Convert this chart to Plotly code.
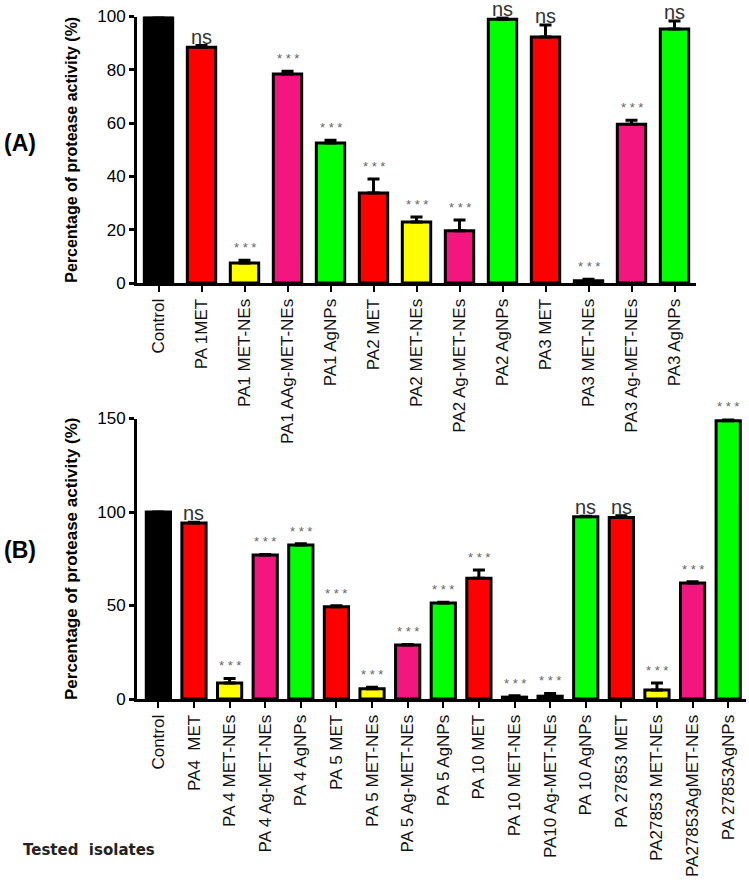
import plotly.graph_objects as go

# ---------------- Panel A data ----------------
cats_a = ["Control", "PA 1MET", "PA1 MET-NEs", "PA1 AAg-MET-NEs", "PA1 AgNPs",
          "PA2 MET", "PA2 MET-NEs", "PA2 Ag-MET-NEs", "PA2 AgNPs",
          "PA3 MET", "PA3 MET-NEs", "PA3 Ag-MET-NEs", "PA3 AgNPs"]
vals_a = [100, 88.5, 7.5, 78.4, 52.5, 33.8, 22.9, 19.6, 99.0, 92.3, 0.8, 59.6, 95.3]
errs_a = [0, 0.6, 1.0, 1.1, 1.1, 5.2, 1.9, 4.0, 0.5, 4.5, 0.6, 1.5, 3.0]
sig_a = ["", "ns", "***", "***", "***", "***", "***", "***", "ns", "ns", "***", "***", "ns"]
cols_a = ["#000000", "#FF0000", "#FFFF00", "#F2167E", "#00FF00",
          "#FF0000", "#FFFF00", "#F2167E", "#00FF00",
          "#FF0000", "#FFFF00", "#F2167E", "#00FF00"]

# ---------------- Panel B data ----------------
cats_b = ["Control", "PA4  MET", "PA 4 MET-NEs", "PA 4 Ag-MET-NEs", "PA 4 AgNPs",
          "PA 5 MET", "PA 5 MET-NEs", "PA 5 Ag-MET-NEs", "PA 5 AgNPs",
          "PA 10 MET", "PA 10 MET-NEs", "PA10 Ag-MET-NEs", "PA 10 AgNPs",
          "PA 27853 MET", "PA27853 MET-NEs", "PA27853AgMET-NEs", "PA 27853AgNPs"]
vals_b = [100, 94.1, 8.6, 77.0, 82.4, 49.3, 5.5, 28.9, 51.3, 64.6, 1.0, 1.5,
          97.4, 97.0, 4.8, 62.0, 148.8]
errs_b = [0, 0.4, 2.4, 0.3, 0.6, 0.5, 0.8, 0.3, 0.4, 4.4, 0.8, 1.5,
          0.3, 1.0, 3.8, 0.7, 0.7]
sig_b = ["", "ns", "***", "***", "***", "***", "***", "***", "***", "***", "***", "***",
         "ns", "ns", "***", "***", "***"]
cols_b = ["#000000", "#FF0000", "#FFFF00", "#F2167E", "#00FF00",
          "#FF0000", "#FFFF00", "#F2167E", "#00FF00",
          "#FF0000", "#FFFF00", "#F2167E", "#00FF00",
          "#FF0000", "#FFFF00", "#F2167E", "#00FF00"]

yticks_a = [0, 20, 40, 60, 80, 100]
yticks_b = [0, 50, 100, 150]

W, H = 749, 884
fig = go.Figure()

def add_bars(cats, vals, errs, cols, xa, ya, width):
    fig.add_trace(go.Bar(
        x=cats, y=vals, xaxis=xa, yaxis=ya,
        marker=dict(color=cols, line=dict(color="black", width=3)),
        width=width,
        error_y=dict(type="data", symmetric=False, array=errs,
                     arrayminus=[0] * len(errs), color="black",
                     thickness=3, width=6),
        showlegend=False, hoverinfo="x+y"))

add_bars(cats_a, vals_a, errs_a, cols_a, "x", "y", 0.66)
add_bars(cats_b, vals_b, errs_b, cols_b, "x2", "y2", 0.68)

anns = []
def add_sig(cats, vals, errs, sigs, xr, yr):
    for c, v, e, s in zip(cats, vals, errs, sigs):
        if not s:
            continue
        if s == "ns":
            anns.append(dict(x=c, y=v + e, xref=xr, yref=yr, text="ns",
                             showarrow=False, yanchor="bottom", yshift=-4,
                             font=dict(family="Liberation Sans, Arial", size=20, color="#333333")))
        else:
            anns.append(dict(x=c, y=v + e, xref=xr, yref=yr, text="* * *",
                             showarrow=False, yanchor="bottom", yshift=3,
                             font=dict(family="Liberation Sans, Arial", size=13, color="#666666")))

add_sig(cats_a, vals_a, errs_a, sig_a, "x", "y")
add_sig(cats_b, vals_b, errs_b, sig_b, "x2", "y2")

anns.append(dict(x=2 / W, y=1 - 143 / H, xref="paper", yref="paper", text="<b>(A)</b>",
                 showarrow=False, xanchor="left", yanchor="middle",
                 font=dict(family="Liberation Sans, Arial", size=23, color="black")))
anns.append(dict(x=2 / W, y=1 - 550 / H, xref="paper", yref="paper", text="<b>(B)</b>",
                 showarrow=False, xanchor="left", yanchor="middle",
                 font=dict(family="Liberation Sans, Arial", size=23, color="black")))
anns.append(dict(x=21 / W, y=1 - 850 / H, xref="paper", yref="paper", text="<b>Tested  isolates</b>",
                 showarrow=False, xanchor="left", yanchor="middle",
                 font=dict(family="DejaVu Sans", size=15, color="#222222")))

xfont = dict(family="Liberation Sans, Arial", size=17, color="#111111")
yfont = dict(family="Liberation Sans, Arial", size=17, color="black")

common_x = dict(showline=True, linecolor="black", linewidth=3, ticks="outside",
                ticklen=6, tickwidth=2, tickcolor="black", tickangle=-90,
                tickfont=xfont, showgrid=False, zeroline=False, automargin=False,
                type="category")
common_y = dict(showline=True, linecolor="black", linewidth=3, ticks="outside",
                ticklen=5, tickwidth=3, tickcolor="black", showgrid=False,
                zeroline=False, automargin=False, tickprefix="<b>", ticksuffix="</b>",
                tickfont=yfont)

fig.update_layout(
    width=W, height=H, margin=dict(l=0, r=0, t=0, b=0),
    paper_bgcolor="white", plot_bgcolor="white", bargap=0.3,
    annotations=anns,
    xaxis=dict(common_x, domain=[137 / W, 696 / W], range=[-0.5, 12.5], anchor="y"),
    yaxis=dict(common_y, domain=[1 - 283 / H, 1 - 16.5 / H], range=[0, 100],
               tickvals=yticks_a, anchor="x",
               title=dict(text="<b>Percentage of protease activity (%)</b>",
                          font=dict(family="Liberation Sans, Arial", size=16, color="black"),
                          standoff=16)),
    xaxis2=dict(common_x, domain=[137 / W, 746 / W], range=[-0.6, 16.5], anchor="y2"),
    yaxis2=dict(common_y, domain=[1 - 699 / H, 1 - 418.5 / H], range=[0, 150],
                tickvals=yticks_b, anchor="x2",
                title=dict(text="<b>Percentage of protease activity (%)</b>",
                           font=dict(family="Liberation Sans, Arial", size=17, color="black"),
                           standoff=16)),
)

fig.write_html("out.html", config={"displayModeBar": False},
               post_script="document.body.style.margin='0px';document.body.style.padding='0px';")
